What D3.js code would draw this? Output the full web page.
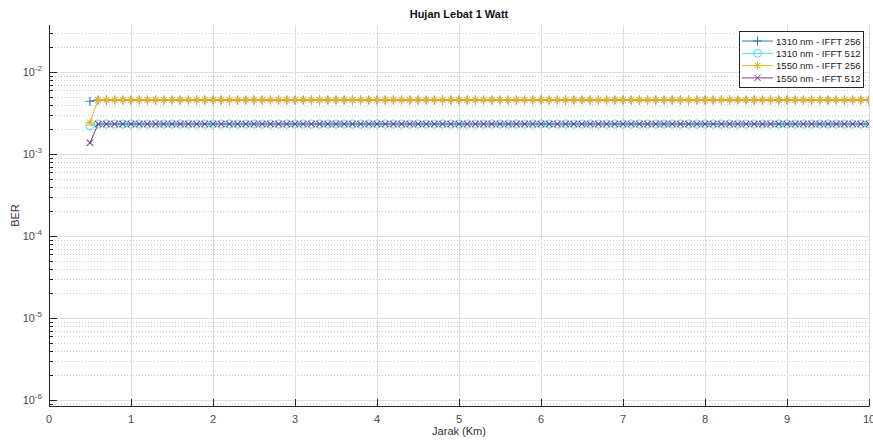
<!DOCTYPE html>
<html>
<head>
<meta charset="utf-8">
<script src="https://cdn.jsdelivr.net/npm/d3@7"></script>
<style>
body { margin: 0; background: #fff; }
text { font-family: "Liberation Sans", Arial, sans-serif; }
</style>
</head>
<body>
<svg id="chart" width="873" height="441"></svg>
<script>
// jarak (km)
var jarak = [0.5,0.6,0.7,0.8,0.9,
	1.0,1.1,1.2,1.3,1.4,1.5,1.6,1.7,1.8,1.9,
	2.0,2.1,2.2,2.3,2.4,2.5,2.6,2.7,2.8,2.9,
	3.0,3.1,3.2,3.3,3.4,3.5,3.6,3.7,3.8,3.9,
	4.0,4.1,4.2,4.3,4.4,4.5,4.6,4.7,4.8,4.9,
	5.0,5.1,5.2,5.3,5.4,5.5,5.6,5.7,5.8,5.9,
	6.0,6.1,6.2,6.3,6.4,6.5,6.6,6.7,6.8,6.9,
	7.0,7.1,7.2,7.3,7.4,7.5,7.6,7.7,7.8,7.9,
	8.0,8.1,8.2,8.3,8.4,8.5,8.6,8.7,8.8,8.9,
	9.0,9.1,9.2,9.3,9.4,9.5,9.6,9.7,9.8,9.9,
	10.0]

var ber1310_256 = [4.4e-3,
	4.56e-3,4.56e-3,4.56e-3,4.56e-3,
	4.56e-3,4.56e-3,4.56e-3,4.56e-3,4.56e-3,4.56e-3,4.56e-3,4.56e-3,4.56e-3,4.56e-3,
	4.56e-3,4.56e-3,4.56e-3,4.56e-3,4.56e-3,4.56e-3,4.56e-3,4.56e-3,4.56e-3,4.56e-3,
	4.56e-3,4.56e-3,4.56e-3,4.56e-3,4.56e-3,4.56e-3,4.56e-3,4.56e-3,4.56e-3,4.56e-3,
	4.56e-3,4.56e-3,4.56e-3,4.56e-3,4.56e-3,4.56e-3,4.56e-3,4.56e-3,4.56e-3,4.56e-3,
	4.56e-3,4.56e-3,4.56e-3,4.56e-3,4.56e-3,4.56e-3,4.56e-3,4.56e-3,4.56e-3,4.56e-3,
	4.56e-3,4.56e-3,4.56e-3,4.56e-3,4.56e-3,4.56e-3,4.56e-3,4.56e-3,4.56e-3,4.56e-3,
	4.56e-3,4.56e-3,4.56e-3,4.56e-3,4.56e-3,4.56e-3,4.56e-3,4.56e-3,4.56e-3,4.56e-3,
	4.56e-3,4.56e-3,4.56e-3,4.56e-3,4.56e-3,4.56e-3,4.56e-3,4.56e-3,4.56e-3,4.56e-3,
	4.56e-3,4.56e-3,4.56e-3,4.56e-3,4.56e-3,4.56e-3,4.56e-3,4.56e-3,4.56e-3,4.56e-3,
	4.56e-3]

var ber1310_512 = [2.2e-3,
	2.32e-3,2.32e-3,2.32e-3,2.32e-3,
	2.32e-3,2.32e-3,2.32e-3,2.32e-3,2.32e-3,2.32e-3,2.32e-3,2.32e-3,2.32e-3,2.32e-3,
	2.32e-3,2.32e-3,2.32e-3,2.32e-3,2.32e-3,2.32e-3,2.32e-3,2.32e-3,2.32e-3,2.32e-3,
	2.32e-3,2.32e-3,2.32e-3,2.32e-3,2.32e-3,2.32e-3,2.32e-3,2.32e-3,2.32e-3,2.32e-3,
	2.32e-3,2.32e-3,2.32e-3,2.32e-3,2.32e-3,2.32e-3,2.32e-3,2.32e-3,2.32e-3,2.32e-3,
	2.32e-3,2.32e-3,2.32e-3,2.32e-3,2.32e-3,2.32e-3,2.32e-3,2.32e-3,2.32e-3,2.32e-3,
	2.32e-3,2.32e-3,2.32e-3,2.32e-3,2.32e-3,2.32e-3,2.32e-3,2.32e-3,2.32e-3,2.32e-3,
	2.32e-3,2.32e-3,2.32e-3,2.32e-3,2.32e-3,2.32e-3,2.32e-3,2.32e-3,2.32e-3,2.32e-3,
	2.32e-3,2.32e-3,2.32e-3,2.32e-3,2.32e-3,2.32e-3,2.32e-3,2.32e-3,2.32e-3,2.32e-3,
	2.32e-3,2.32e-3,2.32e-3,2.32e-3,2.32e-3,2.32e-3,2.32e-3,2.32e-3,2.32e-3,2.32e-3,
	2.32e-3]

var ber1550_256 = [2.42e-3,
	4.56e-3,4.56e-3,4.56e-3,4.56e-3,
	4.56e-3,4.56e-3,4.56e-3,4.56e-3,4.56e-3,4.56e-3,4.56e-3,4.56e-3,4.56e-3,4.56e-3,
	4.56e-3,4.56e-3,4.56e-3,4.56e-3,4.56e-3,4.56e-3,4.56e-3,4.56e-3,4.56e-3,4.56e-3,
	4.56e-3,4.56e-3,4.56e-3,4.56e-3,4.56e-3,4.56e-3,4.56e-3,4.56e-3,4.56e-3,4.56e-3,
	4.56e-3,4.56e-3,4.56e-3,4.56e-3,4.56e-3,4.56e-3,4.56e-3,4.56e-3,4.56e-3,4.56e-3,
	4.56e-3,4.56e-3,4.56e-3,4.56e-3,4.56e-3,4.56e-3,4.56e-3,4.56e-3,4.56e-3,4.56e-3,
	4.56e-3,4.56e-3,4.56e-3,4.56e-3,4.56e-3,4.56e-3,4.56e-3,4.56e-3,4.56e-3,4.56e-3,
	4.56e-3,4.56e-3,4.56e-3,4.56e-3,4.56e-3,4.56e-3,4.56e-3,4.56e-3,4.56e-3,4.56e-3,
	4.56e-3,4.56e-3,4.56e-3,4.56e-3,4.56e-3,4.56e-3,4.56e-3,4.56e-3,4.56e-3,4.56e-3,
	4.56e-3,4.56e-3,4.56e-3,4.56e-3,4.56e-3,4.56e-3,4.56e-3,4.56e-3,4.56e-3,4.56e-3,
	4.56e-3]

var ber1550_512 = [1.37e-3,
	2.32e-3,2.32e-3,2.32e-3,2.32e-3,
	2.32e-3,2.32e-3,2.32e-3,2.32e-3,2.32e-3,2.32e-3,2.32e-3,2.32e-3,2.32e-3,2.32e-3,
	2.32e-3,2.32e-3,2.32e-3,2.32e-3,2.32e-3,2.32e-3,2.32e-3,2.32e-3,2.32e-3,2.32e-3,
	2.32e-3,2.32e-3,2.32e-3,2.32e-3,2.32e-3,2.32e-3,2.32e-3,2.32e-3,2.32e-3,2.32e-3,
	2.32e-3,2.32e-3,2.32e-3,2.32e-3,2.32e-3,2.32e-3,2.32e-3,2.32e-3,2.32e-3,2.32e-3,
	2.32e-3,2.32e-3,2.32e-3,2.32e-3,2.32e-3,2.32e-3,2.32e-3,2.32e-3,2.32e-3,2.32e-3,
	2.32e-3,2.32e-3,2.32e-3,2.32e-3,2.32e-3,2.32e-3,2.32e-3,2.32e-3,2.32e-3,2.32e-3,
	2.32e-3,2.32e-3,2.32e-3,2.32e-3,2.32e-3,2.32e-3,2.32e-3,2.32e-3,2.32e-3,2.32e-3,
	2.32e-3,2.32e-3,2.32e-3,2.32e-3,2.32e-3,2.32e-3,2.32e-3,2.32e-3,2.32e-3,2.32e-3,
	2.32e-3,2.32e-3,2.32e-3,2.32e-3,2.32e-3,2.32e-3,2.32e-3,2.32e-3,2.32e-3,2.32e-3,
	2.32e-3]

var seriesNames = ["1310 nm - IFFT 256", "1310 nm - IFFT 512", "1550 nm - IFFT 256", "1550 nm - IFFT 512"]
var seriesValues = [ber1310_256, ber1310_512, ber1550_256, ber1550_512]
var seriesColors = ["#2a7fb0", "#4fdde3", "#eab22a", "#7e3a8e"]
var seriesMarkers = ["plus", "circle", "star", "cross"]

var xTicks = [0,1,2,3,4,5,6,7,8,9,10]
var yDecades = [-6,-5,-4,-3,-2]

// plot box (window.top is read only, so own names here)
var pLeft = 49, pRight = 869, pTop = 25, pBottom = 406

var x = d3.scaleLinear().domain([0, 10]).range([pLeft, pRight])
var y = d3.scaleLog().domain([Math.pow(10,-6.073), Math.pow(10,-1.427)]).range([pBottom, pTop])

var svg = d3.select('#chart')

svg.append('defs').append('clipPath').attr('id','clip')
	.append('rect').attr('x',pLeft).attr('y',pTop).attr('width',pRight-pLeft).attr('height',pBottom-pTop)

// minor y values
var minorY = []
for (var d = -7; d <= -2; d++) {
	for (var m = 2; m <= 9; m++) {
		var v = m * Math.pow(10, d)
		if (y(v) <= pBottom && y(v) >= pTop) minorY.push(v)
	}
}

var grid = svg.append('g')
grid.selectAll('.minor').data(minorY).enter().append('line')
	.attr('x1', pLeft).attr('x2', pRight)
	.attr('y1', function(d){ return Math.round(y(d))+0.5 }).attr('y2', function(d){ return Math.round(y(d))+0.5 })
	.attr('stroke', '#cccccc').attr('stroke-width', 1).attr('stroke-dasharray', '1,2')
grid.selectAll('.majory').data(yDecades).enter().append('line')
	.attr('x1', pLeft).attr('x2', pRight)
	.attr('y1', function(d){ return Math.round(y(Math.pow(10,d)))+0.5 })
	.attr('y2', function(d){ return Math.round(y(Math.pow(10,d)))+0.5 })
	.attr('stroke', '#dedede').attr('stroke-width', 1)
grid.selectAll('.majorx').data(xTicks.slice(1)).enter().append('line')
	.attr('y1', pTop).attr('y2', pBottom)
	.attr('x1', function(d){ return Math.round(x(d))+0.5 })
	.attr('x2', function(d){ return Math.round(x(d))+0.5 })
	.attr('stroke', '#dedede').attr('stroke-width', 1)

// axes
var axisColor = '#262626'
var ax = svg.append('g')
ax.append('line').attr('x1', pLeft+0.5).attr('x2', pLeft+0.5).attr('y1', pTop).attr('y2', pBottom+0.5)
	.attr('stroke', axisColor)
ax.append('line').attr('x1', pLeft).attr('x2', pRight+0.5).attr('y1', pBottom+0.5).attr('y2', pBottom+0.5)
	.attr('stroke', axisColor)

ax.selectAll('.xt').data(xTicks).enter().append('line')
	.attr('x1', function(d){ return Math.round(x(d))+0.5 })
	.attr('x2', function(d){ return Math.round(x(d))+0.5 })
	.attr('y1', pBottom).attr('y2', pBottom-7).attr('stroke', axisColor)
ax.selectAll('.xl').data(xTicks).enter().append('text')
	.attr('x', function(d){ return x(d) }).attr('y', pBottom+17)
	.attr('text-anchor','middle').attr('font-size', 11).attr('fill', '#4a4a4a')
	.text(function(d){ return d })

ax.selectAll('.yt').data(yDecades).enter().append('line')
	.attr('y1', function(d){ return Math.round(y(Math.pow(10,d)))+0.5 })
	.attr('y2', function(d){ return Math.round(y(Math.pow(10,d)))+0.5 })
	.attr('x1', pLeft).attr('x2', pLeft+8).attr('stroke', axisColor)
ax.selectAll('.ymt').data(minorY).enter().append('line')
	.attr('y1', function(d){ return Math.round(y(d))+0.5 })
	.attr('y2', function(d){ return Math.round(y(d))+0.5 })
	.attr('x1', pLeft).attr('x2', pLeft+4).attr('stroke', axisColor)

var yl = ax.selectAll('.yl').data(yDecades).enter().append('text')
	.attr('x', pLeft-7).attr('y', function(d){ return y(Math.pow(10,d)) + 4 })
	.attr('text-anchor','end').attr('font-size', 11).attr('fill', '#4a4a4a')
yl.append('tspan').text('10')
yl.append('tspan').attr('dy', -5).attr('font-size', 8).text(function(d){ return String(d) })

// labels
svg.append('text').attr('x', (pLeft+pRight)/2).attr('y', 18)
	.attr('text-anchor','middle').attr('font-size', 11).attr('font-weight','bold').attr('fill','#111')
	.text('Hujan Lebat 1 Watt')
svg.append('text').attr('x', (pLeft+pRight)/2).attr('y', 435)
	.attr('text-anchor','middle').attr('font-size', 11).attr('fill','#333')
	.text('Jarak (Km)')
svg.append('text').attr('transform', 'translate(19,' + ((pTop+pBottom)/2) + ') rotate(-90)')
	.attr('text-anchor','middle').attr('font-size', 11).attr('fill','#333')
	.text('BER')

function drawMarker(g, type, color) {
	if (type === 'plus') {
		g.append('path').attr('d', 'M-4.5,0H4.5M0,-4.5V4.5')
			.attr('stroke', color).attr('fill','none')
	} else if (type === 'circle') {
		g.append('circle').attr('r', 4).attr('stroke', color).attr('fill','none')
	} else if (type === 'star') {
		g.append('path').attr('d', 'M-4,0H4M0,-4V4M-3,-3L3,3M-3,3L3,-3')
			.attr('stroke', color).attr('fill','none')
	} else {
		g.append('path').attr('d', 'M-3.2,-3.2L3.2,3.2M-3.2,3.2L3.2,-3.2')
			.attr('stroke', color).attr('fill','none')
	}
}

var plot = svg.append('g').attr('clip-path','url(#clip)')
var line = d3.line()
	.x(function(d){ return x(d[0]) })
	.y(function(d){ return y(d[1]) })

seriesValues.forEach(function(vals, i) {
	var pts = jarak.map(function(j, k){ return [j, vals[k]] })
	var g = plot.append('g')
	g.append('path').datum(pts).attr('d', line)
		.attr('fill','none').attr('stroke', seriesColors[i]).attr('stroke-width', 1)
	pts.forEach(function(p) {
		var mg = g.append('g').attr('transform', 'translate(' + x(p[0]) + ',' + y(p[1]) + ')')
			.attr('stroke-width', 1.1)
		drawMarker(mg, seriesMarkers[i], seriesColors[i])
	})
})

// legend
var lg = svg.append('g').attr('transform', 'translate(739,31)')
lg.append('rect').attr('x', 0.5).attr('y', 0.5).attr('width', 124).attr('height', 56)
	.attr('fill', '#fff').attr('stroke', '#262626')
seriesNames.forEach(function(name, i) {
	var ry = 10 + i * 12.3
	lg.append('line').attr('x1', 3).attr('x2', 34).attr('y1', ry).attr('y2', ry)
		.attr('stroke', seriesColors[i])
	var mg = lg.append('g').attr('transform', 'translate(18.5,' + ry + ')')
	drawMarker(mg, seriesMarkers[i], seriesColors[i])
	lg.append('text').attr('x', 37).attr('y', ry + 3.6).attr('font-size', 9.6).attr('fill', '#222')
		.text(name)
})
</script>
</body>
</html>
